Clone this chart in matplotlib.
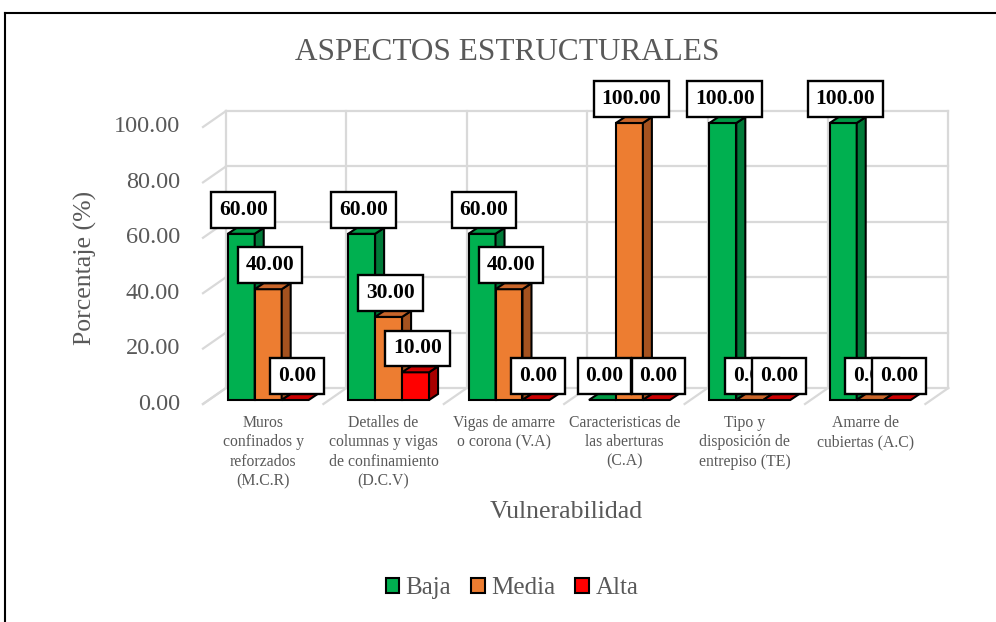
import matplotlib
matplotlib.use("Agg")
import matplotlib.pyplot as plt
from matplotlib.patches import Polygon, Patch
from matplotlib.lines import Line2D

# ---------------- data ----------------
categories = [
    "Muros\nconfinados y\nreforzados\n(M.C.R)",
    "Detalles de\ncolumnas y vigas\nde confinamiento\n(D.C.V)",
    "Vigas de amarre\no corona (V.A)",
    "Caracteristicas de\nlas aberturas\n(C.A)",
    "Tipo y\ndisposición de\nentrepiso (TE)",
    "Amarre de\ncubiertas (A.C)",
]
series_names = ["Baja", "Media", "Alta"]
baja = [60.0, 60.0, 60.0, 0.0, 100.0, 100.0]
media = [40.0, 30.0, 40.0, 100.0, 0.0, 0.0]
alta = [0.0, 10.0, 0.0, 0.0, 0.0, 0.0]
yticks = [0, 20, 40, 60, 80, 100]

# ---------------- style / geometry ----------------
W, H, DPI = 996, 622, 100
PXX = 120.4      # px per category
PXY = 2.77       # px per value unit
X0, Y0 = 208, 400  # pixel of (category 0 left, value 0) on bar plane (from top)

front_col = ["#00b050", "#ed7d31", "#ff0000"]
side_col = ["#007a38", "#a5521f", "#a80000"]
top_col = ["#009a45", "#c8652a", "#cc0000"]
grid_c = "#d9d9d9"
txt_c = "#595959"
SERIF = ["Liberation Serif", "DejaVu Serif"]

fig = plt.figure(figsize=(W / DPI, H / DPI), dpi=DPI)
ax = fig.add_axes([0, 0, 1, 1])
ax.set_xlim(-X0 / PXX, (W - X0) / PXX)
ax.set_ylim(-(H - Y0) / PXY, Y0 / PXY)
ax.axis("off")


def dx(p):
    return p / PXX


def dy(p):
    return p / PXY


# depth offsets (px, up-right positive)
BACK = (18, 12)
FRONT = (-5, -4)
BAR_D = (9, 6)

n = len(categories)
vmax = yticks[-1]

# ---------------- walls / grid ----------------
bx, by = dx(BACK[0]), dy(BACK[1])
fx, fy = dx(FRONT[0]), dy(FRONT[1])
for v in yticks:
    ax.plot([0 + bx, n + bx], [v + by, v + by], color=grid_c, lw=1.6, zorder=1)
    ax.plot([0 + fx, 0 + bx], [v + fy, v + by], color=grid_c, lw=1.6, zorder=1)
for i in range(n + 1):
    ax.plot([i + bx, i + bx], [0 + by, vmax + by], color=grid_c, lw=1.6, zorder=1)
    ax.plot([i + fx, i + bx], [0 + fy, 0 + by], color=grid_c, lw=1.6, zorder=1)

# ---------------- bars ----------------
bw = 0.224
start = (1 - 3 * bw) / 2
ddx, ddy = dx(BAR_D[0]), dy(BAR_D[1])
all_series = [baja, media, alta]
z = 3
for i in range(n):
    for k, vals in enumerate(all_series):
        v = vals[i]
        x0 = i + start + k * bw
        x1 = x0 + bw
        if v > 0:
            ax.bar(x0, v, width=bw, align="edge", color=front_col[k],
                   edgecolor="black", linewidth=1.5, zorder=z)
            side = Polygon([(x1, 0), (x1 + ddx, ddy), (x1 + ddx, v + ddy), (x1, v)],
                           closed=True, fc=side_col[k], ec="black", lw=1.5, zorder=z)
            ax.add_patch(side)
        top = Polygon([(x0, v), (x1, v), (x1 + ddx, v + ddy), (x0 + ddx, v + ddy)],
                      closed=True, fc=top_col[k], ec="black", lw=1.5, zorder=z)
        ax.add_patch(top)
        z += 1

# ---------------- data labels ----------------
zl = 100
for k, vals in enumerate(all_series):
    for i in range(n):
        v = vals[i]
        xc = i + start + k * bw + bw / 2 + dx(2)
        ax.text(xc, v + dy(24), f"{v:.2f}", ha="center", va="center",
                family=SERIF, fontsize=15.5, fontweight="bold", color="black",
                bbox=dict(boxstyle="square,pad=0.36", fc="white", ec="black", lw=1.7),
                zorder=zl)
        zl += 1

# ---------------- axis texts ----------------
for v in yticks:
    ax.text(0 + fx - dx(23), v + fy, f"{v:.2f}", ha="right", va="center",
            family=SERIF, fontsize=17.5, color=txt_c)

for i, lab in enumerate(categories):
    ax.text(i + 0.5 + fx, fy - dy(11), lab, ha="center", va="top",
            family=SERIF, fontsize=11.3, color=txt_c, linespacing=1.28)

fig.text(85 / W, 1 - 268 / H, "Porcentaje (%)", rotation=90, ha="center", va="center",
         family=SERIF, fontsize=18.5, color=txt_c)
fig.text(566 / W, 1 - 512 / H, "Vulnerabilidad", ha="center", va="center",
         family=SERIF, fontsize=18.5, color=txt_c)
fig.text(507 / W, 1 - 53 / H, "ASPECTOS ESTRUCTURALES", ha="center", va="center",
         family=SERIF, fontsize=22.5, color=txt_c)

# ---------------- legend ----------------
handles = [Patch(fc=front_col[k], ec="black", lw=1.5) for k in range(3)]
leg = fig.legend(handles, series_names, loc="center", bbox_to_anchor=(512 / W, 1 - 588 / H),
                 ncol=3, frameon=False, handlelength=0.55, handleheight=0.55,
                 handletextpad=0.25, columnspacing=0.8,
                 prop={"family": SERIF, "size": 18})
for t in leg.get_texts():
    t.set_color(txt_c)

# ---------------- outer border ----------------
fig.add_artist(Line2D([5 / W, 1], [1 - 13 / H, 1 - 13 / H], transform=fig.transFigure,
                      color="black", lw=1.5))
fig.add_artist(Line2D([5 / W, 5 / W], [0, 1 - 13 / H], transform=fig.transFigure,
                      color="black", lw=1.5))

fig.savefig("out.png", dpi=DPI)
